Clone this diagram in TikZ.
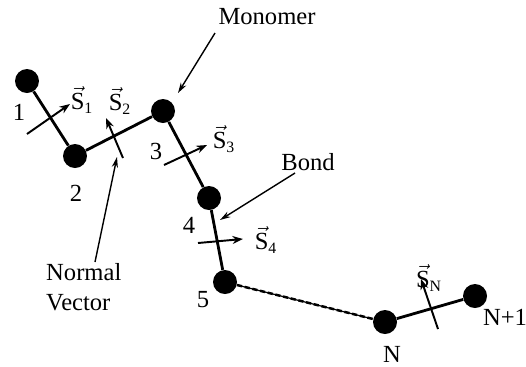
\documentclass[tikz,border=0pt]{standalone}
\usepackage{fontspec}
\setmainfont{Liberation Serif}
\usepackage{amsmath}
\usepackage{tikz}
\usetikzlibrary{arrows.meta}
\usetikzlibrary{positioning}
\newcommand{\pxsc}{0.02}
\newcommand{\svec}[1]{$\vec{\mbox{S}}_{\mbox{\small #1}}$}

\begin{document}
\begin{tikzpicture}[x=\pxsc cm,y=-\pxsc cm,
	font=\fontsize{14}{17}\selectfont,
	mono/.style={shape=circle,fill=black,draw=none,
		minimum size=0.48cm,inner sep=0},
	bond/.style={line width=1.6pt},
	chainbond/.style={line width=1.4pt,dash pattern=on 3pt off 1.5pt},
	normvec/.style={line width=1.1pt,-{Stealth[open,length=6pt,width=4.5pt]}},
	pointer/.style={line width=0.8pt,-{Stealth[length=6pt,width=3.5pt]}},
	]
	\useasboundingbox (0,0) rectangle (526,366);
	
	% monomers
	\foreach \n/\x/\y in {1/27/81,2/75/156,3/163/111,4/209/198,5/225/282,N/385/322,N1/475/296}{%
		\node[mono] (m\n) at (\x,\y) {};}
	
	% bonds
	\draw[bond] (m1) -- (m2) -- (m3) -- (m4) -- (m5);
	\draw[line width=0.7pt] (m5) -- (mN);
	\draw[chainbond] (m5) -- (mN);
	\draw[bond] (mN) -- (mN1);
	
	% monomer numbers
	\node (n1) at (19,112) {1};
	\node (n2) at (76,193) {2};
	\node (n3) at (156,151) {3};
	\node (n4) at (189,225) {4};
	\node (n5) at (203,300) {5};
	\node (nN) at (392,354) {N};
	\node (nN1) at (505,317) {N+1};
	
	% normal vectors
	\foreach \k/\tx/\ty/\hx/\hy in {1/27/134/70/104,2/123/158/106/118,3/164/165/207/145,4/198/243/243/239,N/438/329/421/279}{%
		\coordinate (s\k t) at (\tx,\ty);
		\coordinate (s\k h) at (\hx,\hy);
		\draw[normvec] (s\k t) -- (s\k h);}
	\node[inner sep=1pt] (l1) at (82,100) {\svec{1}};
	\node[inner sep=1pt] (l2) at (120,101) {\svec{2}};
	\node[inner sep=1pt] (l3) at (224,139) {\svec{3}};
	\node[inner sep=1pt] (l4) at (266,240) {\svec{4}};
	\node[inner sep=1pt] (lN) at (429,278) {\svec{N}};
	
	% captions
	\node (monomer) at (267,17) {Monomer};
	\node (bondtxt) at (308,162) {Bond};
	\node[align=left,anchor=west] (normal) at (40,287) {Normal\\Vector};
	
	\coordinate (pm) at (215,33);
	\coordinate (pmh) at (178,93);
	\draw[pointer] (pm) -- (pmh);
	\coordinate (pb) at (295,173);
	\coordinate (pbh) at (220,220);
	\draw[pointer] (pb) -- (pbh);
	\coordinate (pn) at (95,262);
	\coordinate (pnh) at (117,157);
	\draw[pointer] (pn) -- (pnh);
\end{tikzpicture}
\end{document}
